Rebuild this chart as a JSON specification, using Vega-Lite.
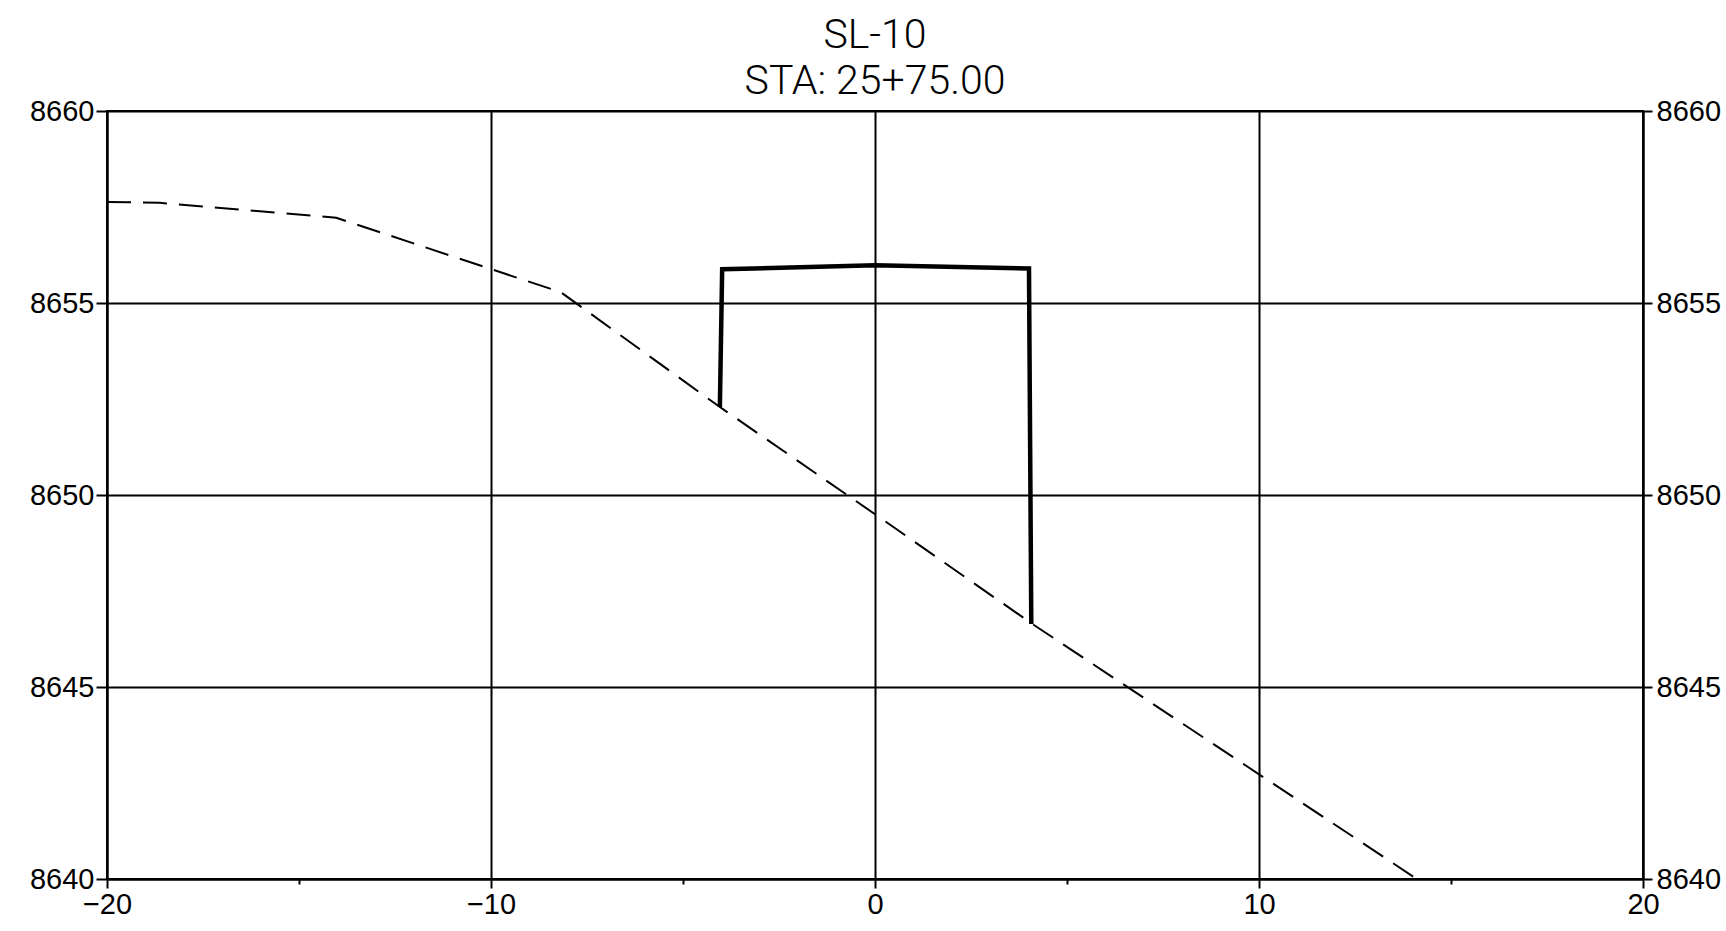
{
  "$schema": "https://vega.github.io/schema/vega-lite/v6.json",
  "autosize": "none",
  "padding": {"left": 107, "top": 111, "right": 83, "bottom": 52},
  "width": 1536,
  "height": 768,
  "background": "white",
  "view": {"stroke": "black", "strokeWidth": 2},
  "title": {
    "text": ["SL-10", "STA: 25+75.00"],
    "font": "Roboto",
    "fontWeight": 300,
    "fontSize": 41,
    "color": "black",
    "lineHeight": 46,
    "anchor": "middle",
    "offset": -6
  },
  "datasets": {
    "ground": [
      {"x": -20, "y": 8657.63},
      {"x": -18.63, "y": 8657.61},
      {"x": -14.03, "y": 8657.22},
      {"x": -8.18, "y": 8655.28},
      {"x": -4.04, "y": 8652.29},
      {"x": 0, "y": 8649.5},
      {"x": 4.07, "y": 8646.66},
      {"x": 14.11, "y": 8640}
    ],
    "structure": [
      {"i": 1, "x": -4.04, "y": 8652.29},
      {"i": 2, "x": -3.98, "y": 8655.88},
      {"i": 3, "x": 0, "y": 8655.98},
      {"i": 4, "x": 4.01, "y": 8655.9},
      {"i": 5, "x": 4.07, "y": 8646.64}
    ]
  },
  "layer": [
    {
      "data": {"name": "ground"},
      "mark": {"type": "line", "color": "black", "strokeWidth": 2, "strokeDash": [24, 12], "clip": true},
      "encoding": {
        "x": {
          "field": "x", "type": "quantitative",
          "scale": {"domain": [-20, 20], "nice": false, "zero": false},
          "axis": {
            "orient": "bottom",
            "title": null,
            "values": [-20, -15, -10, -5, 0, 5, 10, 15, 20],
            "labelExpr": "datum.value % 10 === 0 ? datum.label : ''",
            "labelFont": "Liberation Sans",
            "labelFontSize": 29,
            "labelColor": "black",
            "labelPadding": 2,
            "labelFlush": false,
            "labelOverlap": false,
            "domainColor": "black",
            "domainWidth": 2,
            "tickColor": "black",
            "tickWidth": 2,
            "tickSize": {"condition": {"test": "datum.value % 10 === 0", "value": 9}, "value": 5},
            "grid": true,
            "gridColor": "black",
            "gridWidth": 2,
            "gridOpacity": {"condition": {"test": "datum.value % 10 === 0", "value": 1}, "value": 0}
          }
        },
        "y": {
          "field": "y", "type": "quantitative",
          "scale": {"domain": [8640, 8660], "nice": false, "zero": false},
          "axis": {
            "orient": "left",
            "title": null,
            "format": "d",
            "values": [8640, 8645, 8650, 8655, 8660],
            "labelFont": "Liberation Sans",
            "labelFontSize": 29,
            "labelColor": "black",
            "labelPadding": 2,
            "labelFlush": false,
            "labelOverlap": false,
            "domainColor": "black",
            "domainWidth": 2,
            "tickColor": "black",
            "tickWidth": 2,
            "tickSize": 11,
            "grid": true,
            "gridColor": "black",
            "gridWidth": 2,
            "gridOpacity": 1
          }
        }
      }
    },
    {
      "data": {"name": "structure"},
      "mark": {"type": "line", "color": "black", "strokeWidth": 4.5, "strokeJoin": "miter", "strokeCap": "butt"},
      "encoding": {
        "x": {"field": "x", "type": "quantitative"},
        "y": {
          "field": "y", "type": "quantitative",
          "axis": {
            "orient": "right",
            "title": null,
            "format": "d",
            "values": [8640, 8645, 8650, 8655, 8660],
            "labelFont": "Liberation Sans",
            "labelFontSize": 29,
            "labelColor": "black",
            "labelPadding": 4,
            "labelFlush": false,
            "labelOverlap": false,
            "domainColor": "black",
            "domainWidth": 2,
            "tickColor": "black",
            "tickWidth": 2,
            "tickSize": 9,
            "grid": false
          }
        },
        "order": {"field": "i", "type": "quantitative"}
      }
    }
  ],
  "resolve": {"axis": {"y": "independent"}}
}
